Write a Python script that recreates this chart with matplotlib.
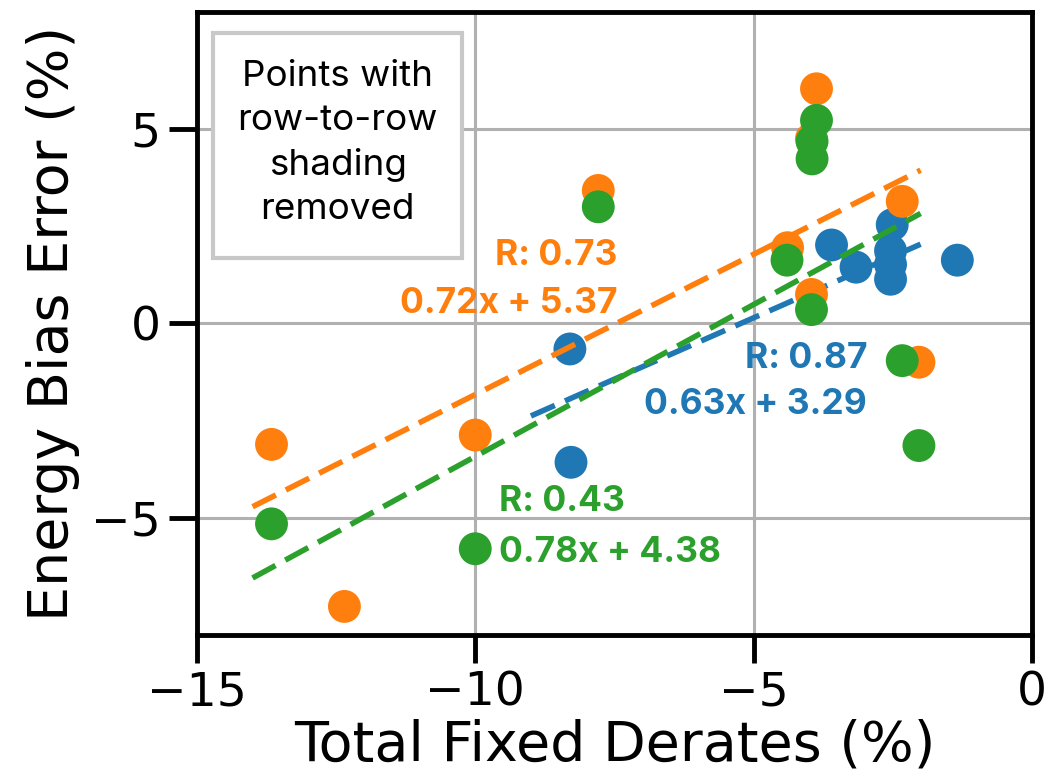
import matplotlib
matplotlib.use("Agg")
import matplotlib.pyplot as plt
from matplotlib.patches import Rectangle
import numpy as np

# ---- data ----
blue_x = [-8.30, -8.28, -3.60, -3.16, -2.51, -2.54, -2.54, -2.54, -1.34]
blue_y = [-0.66, -3.57, 2.01, 1.44, 2.53, 1.86, 1.51, 1.13, 1.62]

orange_x = [-13.66, -12.35, -10.00, -7.79, -4.39, -3.96, -3.87, -3.96, -2.33, -2.03]
orange_y = [-3.11, -7.27, -2.87, 3.41, 1.94, 4.74, 6.02, 0.74, 3.13, -1.00]

green_x = [-13.66, -10.00, -7.79, -4.40, -3.87, -3.95, -3.95, -3.96, -2.33, -2.03]
green_y = [-5.15, -5.79, 2.99, 1.62, 5.21, 4.67, 4.22, 0.35, -0.96, -3.14]

# fit lines: slope, intercept, x-range
blue_fit = (0.63, 3.29, [-9.0, -2.0])
orange_fit = (0.72, 5.37, [-14.0, -2.0])
green_fit = (0.78, 4.38, [-14.0, -2.0])

blue_r, orange_r, green_r = 0.87, 0.73, 0.43

x_ticks = [-15, -10, -5, 0]
y_ticks = [-5, 0, 5]

note_text = "Points with\nrow-to-row\nshading\nremoved"

C_BLUE, C_ORANGE, C_GREEN = "#1f77b4", "#ff7f0e", "#2ca02c"

fig = plt.figure(figsize=(10.53, 7.78), dpi=100)
ax = fig.add_axes([0.187, 0.184, 0.793, 0.801])

series = [
    (blue_x, blue_y, blue_fit, C_BLUE),
    (orange_x, orange_y, orange_fit, C_ORANGE),
    (green_x, green_y, green_fit, C_GREEN),
]
z = 3
for xs, ys, (m, b, xr), c in series:
    ax.scatter(xs, ys, s=560, color=c, edgecolors="none", zorder=z)
    xl = np.array(xr)
    ax.plot(xl, m * xl + b, color=c, lw=4, linestyle=(0, (4.7, 2.0)), zorder=z + 0.5)
    z += 1

ax.set_xlim(-15, 0)
ax.set_ylim(-8, 8)
ax.set_xticks(x_ticks)
ax.set_yticks(y_ticks)
ax.grid(True, color="#b0b0b0", lw=2.2, zorder=0)
ax.set_axisbelow(True)
for sp in ax.spines.values():
    sp.set_linewidth(3.5)
    sp.set_color("black")
ax.tick_params(axis="both", length=20, width=3.5, labelsize=34, pad=6)

ax.set_xlabel("Total Fixed Derates (%)", fontsize=40, labelpad=2)
ax.set_ylabel("Energy Bias Error (%)", fontsize=40, labelpad=8)

afont = dict(family=["Inter", "DejaVu Sans"], fontweight="bold", fontsize=25.5)
ax.text(-7.45, 1.73, f"R: {orange_r:.2f}", color=C_ORANGE, ha="right", va="center", zorder=10, **afont)
ax.text(-7.45, 0.52, f"{orange_fit[0]:.2f}x + {orange_fit[1]:.2f}", color=C_ORANGE, ha="right", va="center", zorder=10, **afont)
ax.text(-2.96, -0.90, f"R: {blue_r:.2f}", color=C_BLUE, ha="right", va="center", zorder=10, **afont)
ax.text(-2.96, -2.09, f"{blue_fit[0]:.2f}x + {blue_fit[1]:.2f}", color=C_BLUE, ha="right", va="center", zorder=10, **afont)
ax.text(-9.57, -4.58, f"R: {green_r:.2f}", color=C_GREEN, ha="left", va="center", zorder=10, **afont)
ax.text(-9.57, -5.88, f"{green_fit[0]:.2f}x + {green_fit[1]:.2f}", color=C_GREEN, ha="left", va="center", zorder=10, **afont)

# boxed note
ax.add_patch(Rectangle((-14.71, 1.68), 4.48, 5.77, facecolor="white", edgecolor="#c8c8c8",
                       lw=3, zorder=9))
ax.text(-12.47, 4.62, note_text, ha="center", va="center",
        fontsize=26.5, family=["Inter", "DejaVu Sans"], linespacing=1.42, zorder=10)

fig.savefig("out.png", dpi=100)
